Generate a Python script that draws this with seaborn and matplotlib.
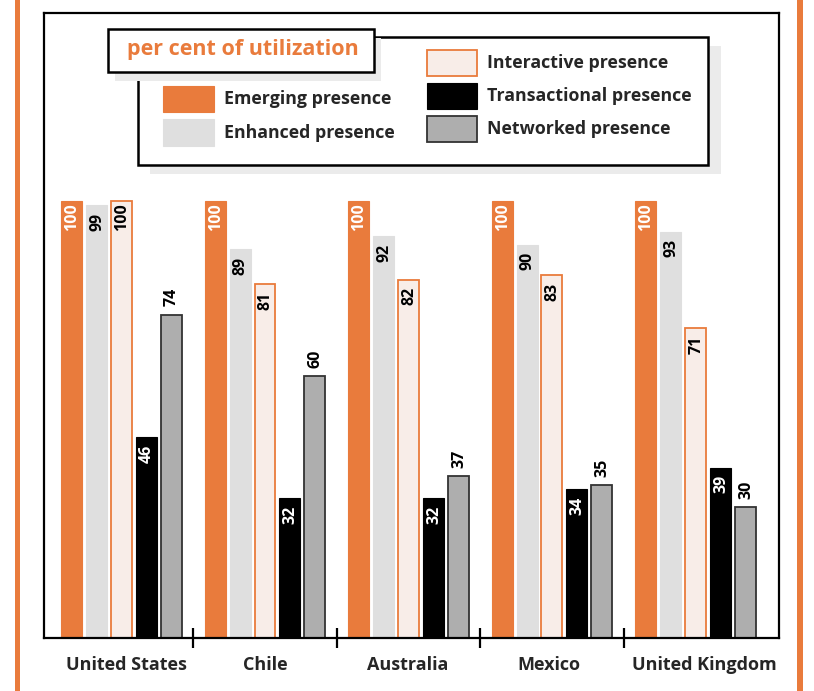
import matplotlib
matplotlib.use("Agg")
import matplotlib.pyplot as plt
from matplotlib.patches import Rectangle
from matplotlib.transforms import ScaledTranslation
import seaborn as sns
import pandas as pd

countries = ["United States", "Chile", "Australia", "Mexico", "United Kingdom"]
series = ["Emerging presence", "Enhanced presence", "Interactive presence",
          "Transactional presence", "Networked presence"]
emerging = [100, 100, 100, 100, 100]
enhanced = [99, 89, 92, 90, 93]
interactive = [100, 81, 82, 83, 71]
transactional = [46, 32, 32, 34, 39]
networked = [74, 60, 37, 35, 30]
legend_title = "per cent of utilization"

ORANGE = "#E97B3C"
face = [ORANGE, "#DFDFDF", "#F8EDE8", "#000000", "#AEAEAE"]
edges = [ORANGE, "#DFDFDF", ORANGE, "#000000", "#333333"]
label_color = ["white", "black", "black", "white", "black"]
label_inside = [True, True, True, True, False]

values = [emerging, enhanced, interactive, transactional, networked]
df = pd.DataFrame({
    "country": [c for s in series for c in countries],
    "series": [s for s in series for c in countries],
    "value": [v for vals in values for v in vals],
})

sns.set_theme(style="white")
FONT = ["Open Sans", "DejaVu Sans"]
plt.rcParams["font.family"] = FONT
plt.rcParams["font.weight"] = "bold"

W, H = 814, 691
fig = plt.figure(figsize=(W / 100, H / 100), dpi=100)
ax = fig.add_axes([44 / W, 1 - 638 / H, (779 - 44) / W, (638 - 13) / H])

sns.barplot(data=df, x="country", y="value", hue="series", order=countries,
            hue_order=series, palette=face, width=0.87, gap=0.16, dodge=True,
            saturation=1, legend=False, ax=ax, errorbar=None)

for j, cont in enumerate(ax.containers):
    for p in cont.patches:
        p.set_edgecolor(edges[j])
        p.set_linewidth(1.3 if j in (2, 4) else 0.8)
    for p, v in zip(cont.patches, values[j]):
        xc = p.get_x() + p.get_width() / 2
        off = -12 if label_inside[j] else 12.5
        ax.annotate(str(v), (xc, v), xytext=(0.5, off), textcoords="offset points",
                    rotation=90, ha="center", va="center", fontsize=11.5,
                    fontweight="bold", color=label_color[j] if label_inside[j] else "black")

ax.set_xlim(-0.54, 4.582)
ax.set_ylim(0, 143)
ax.set_xlabel("")
ax.set_ylabel("")
ax.set_yticks([])
ax.set_xticks(range(len(countries)))
ax.set_xticklabels(countries, fontsize=13, fontweight="bold")
ax.set_xticks([i + 0.5 for i in range(len(countries) - 1)], minor=True)
ax.tick_params(axis="x", which="major", length=0, pad=13)
ax.tick_params(axis="x", which="minor", direction="inout", length=14, width=1.6,
               color="black", bottom=True)
shifts = [5, 0, -1, -3, 9]
for tick, dx in zip(ax.xaxis.get_major_ticks(), shifts):
    lab = tick.label1
    lab.set_transform(lab.get_transform() + ScaledTranslation(dx / 100, 0, fig.dpi_scale_trans))
for s in ax.spines.values():
    s.set_visible(True)
    s.set_color("black")
    s.set_linewidth(1.6)

T = fig.transFigure


def rect(x0, y0, x1, y1, **kw):
    fig.add_artist(Rectangle((x0 / W, 1 - y1 / H), (x1 - x0) / W, (y1 - y0) / H,
                             transform=T, **kw))


def text(x, y, s, **kw):
    fig.text(x / W, 1 - y / H, s, transform=T, **kw)


# side strips
rect(15, 0, 20, H, facecolor=ORANGE, edgecolor="none")
rect(797, 0, 803, H, facecolor=ORANGE, edgecolor="none")

# legend box + shadow
rect(150, 46, 721, 174, facecolor="#EBEBEB", edgecolor="none", zorder=5)
rect(138, 37, 708, 165, facecolor="white", edgecolor="black", linewidth=1.8, zorder=6)
# title box + shadow
rect(115, 38, 381, 81, facecolor="#EBEBEB", edgecolor="none", zorder=7)
rect(108, 29, 374, 72, facecolor="white", edgecolor="black", linewidth=1.8, zorder=8)
text(243, 49, legend_title, color=ORANGE, fontsize=15.5, fontweight="bold",
     ha="center", va="center", zorder=9)

sw = [(163, 86, 214, 112), (163, 119, 214, 146), (427, 50, 477, 76),
      (427, 83, 477, 109), (427, 116, 477, 142)]
for j, (x0, y0, x1, y1) in enumerate(sw):
    rect(x0, y0, x1, y1, facecolor=face[j], edgecolor=edges[j],
         linewidth=1.3 if j in (2, 4) else 0.8, zorder=9)
    text(x1 + 10, (y0 + y1) / 2, series[j], fontsize=12.8, fontweight="bold",
         ha="left", va="center", zorder=9)

fig.savefig("out.png", dpi=100)
